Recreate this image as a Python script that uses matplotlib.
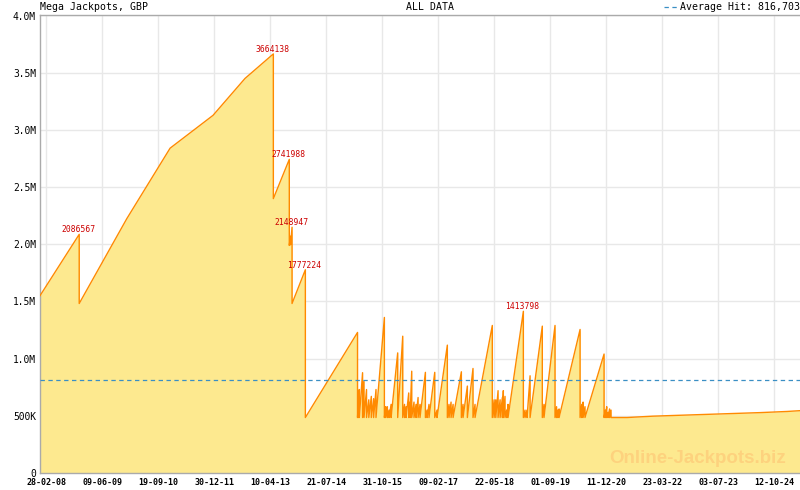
import matplotlib
matplotlib.use("Agg")
import matplotlib.pyplot as plt
import matplotlib.dates as mdates
from matplotlib.lines import Line2D
from matplotlib.ticker import FixedLocator, FuncFormatter
import pandas as pd
import numpy as np

# Jackpot hits: date of the win, amount won
hit_dates = [
    "2008-11-28", "2013-05-05", "2013-09-15", "2013-09-25", "2013-10-08",
    "2014-01-27", "2015-04-07", "2015-04-14", "2015-04-22", "2015-05-19",
    "2015-05-31", "2015-06-21", "2015-07-10", "2015-07-31", "2015-08-19",
    "2015-09-08", "2015-11-17", "2015-11-28", "2015-12-12", "2015-12-26",
    "2016-01-12", "2016-03-07", "2016-04-18", "2016-05-03", "2016-05-16",
    "2016-06-07", "2016-06-18", "2016-07-02", "2016-07-21", "2016-08-07",
    "2016-08-24", "2016-09-09", "2016-10-24", "2016-11-07", "2016-11-23",
    "2017-01-10", "2017-01-29", "2017-04-25", "2017-05-09", "2017-05-26",
    "2017-06-12", "2017-08-20", "2017-09-03", "2017-10-09", "2017-11-25",
    "2017-12-12", "2018-05-05", "2018-05-20", "2018-06-03", "2018-06-22",
    "2018-07-09", "2018-07-28", "2018-08-05", "2018-08-19", "2018-09-02",
    "2018-09-13", "2019-01-19", "2019-02-02", "2019-02-19", "2019-03-16",
    "2019-06-26", "2019-07-10", "2019-10-10", "2019-10-23", "2019-11-02",
    "2019-11-13", "2020-05-06", "2020-05-20", "2020-05-31", "2020-06-16",
    "2020-11-22", "2020-12-03", "2020-12-14", "2020-12-25", "2021-01-07",
    "2021-01-19",
]
hit_values = [
    2086567, 3664138, 2741988, 2070000, 2148947,
    1777224, 1229000, 640000, 730000, 877000,
    800000, 730000, 640000, 670000, 650000,
    730000, 1360000, 580000, 580000, 550000,
    600000, 1050000, 1196000, 600000, 580000,
    700000, 620000, 890000, 620000, 600000,
    660000, 600000, 880000, 550000, 600000,
    880000, 550000, 1118000, 600000, 620000,
    600000, 885000, 600000, 760000, 914000,
    600000, 1290000, 640000, 640000, 720000,
    640000, 660000, 720000, 670000, 550000,
    600000, 1413798, 550000, 550000, 850000,
    1284000, 600000, 1290000, 580000, 550000,
    560000, 1255000, 600000, 620000, 580000,
    1040000, 550000, 580000, 530000, 560000,
    550000,
]
seed = 485000
# value the jackpot restarted from after each hit
reset_values = [1482000, 2399000, 1990000, 1995000, 1482000] + [seed] * (len(hit_dates) - 5)

# readings between hits (start, bends of the long climb, slow growth after 2021)
rise_dates = ["2008-01-06", "2009-12-30", "2010-12-26", "2011-12-19", "2012-09-11",
              "2021-01-28", "2021-06-02", "2022-01-04", "2022-08-18", "2023-03-31",
              "2023-11-03", "2024-06-15", "2025-01-26", "2025-05-14"]
rise_values = [1550000, 2224000, 2840000, 3127000, 3450000,
               485000, 485000, 497000, 505000, 512000,
               520000, 528000, 538000, 545000]

labelled = ["2008-11-28", "2013-05-05", "2013-09-15", "2013-10-08", "2014-01-27", "2019-01-19"]
average_hit = 816703

tick_labels = ["28-02-08", "09-06-09", "19-09-10", "30-12-11", "10-04-13", "21-07-14",
               "31-10-15", "09-02-17", "22-05-18", "01-09-19", "11-12-20", "23-03-22",
               "03-07-23", "12-10-24"]

# build the path: each hit is a peak followed by a drop at the same date
rows = [(pd.Timestamp(d), 0, v) for d, v in zip(rise_dates, rise_values)]
for d, p, r in zip(hit_dates, hit_values, reset_values):
    rows.append((pd.Timestamp(d), 0, p))
    rows.append((pd.Timestamp(d), 1, r))
rows.sort(key=lambda t: (t[0], t[1]))
df = pd.DataFrame(rows, columns=["date", "order", "value"])

mono = "DejaVu Sans Mono"
fill_col = "#fde98f"
line_col = "#ff8a00"
grid_col = "#e8e8e8"
spine_col = "#aaaaaa"
blue = "#3a8fc4"

fig = plt.figure(figsize=(8, 4.9), dpi=100)
ax = fig.add_axes([40 / 800, 1 - 473 / 490, 760 / 800, (473 - 15.5) / 490])
ax.set_axisbelow(True)

ax.fill_between(df["date"], df["value"], color=fill_col, lw=0, zorder=2)
ax.plot(df["date"], df["value"], color=line_col, lw=1.0, zorder=3)
ax.axhline(average_hit, color=blue, lw=0.9, ls=(0, (3.5, 2.8)), zorder=4)

for d in labelled:
    i = hit_dates.index(d)
    ax.annotate(str(hit_values[i]), (pd.Timestamp(d), hit_values[i]),
                xytext=(-0.7, 3.3), textcoords="offset points",
                ha="center", va="center", fontsize=5.8, family=mono,
                color="#cc0000", zorder=5)

ax.set_xlim(pd.Timestamp(rise_dates[0]), pd.Timestamp(rise_dates[-1]))
ax.set_ylim(0, 4000000)

tick_pos = [mdates.date2num(pd.to_datetime(t, format="%d-%m-%y")) for t in tick_labels]
ax.xaxis.set_major_locator(FixedLocator(tick_pos))
ax.set_xticklabels(tick_labels)
step = (tick_pos[1] - tick_pos[0]) / 7
minor = np.arange(tick_pos[0] - 7 * step, tick_pos[-1] + 7 * step, step)
ax.xaxis.set_minor_locator(FixedLocator(minor))

ax.set_yticks(np.arange(0, 4000001, 500000))
ax.yaxis.set_major_formatter(FuncFormatter(
    lambda v, p: "0" if v == 0 else ("500K" if v == 500000 else f"{v / 1e6:.1f}M")))

ax.grid(True, which="major", color=grid_col, lw=1)
ax.tick_params(axis="x", which="major", direction="in", length=3.6, width=1,
               color=spine_col, pad=3.4, labelsize=6)
ax.tick_params(axis="x", which="minor", direction="in", length=2, width=1, color=spine_col)
ax.tick_params(axis="y", direction="in", length=0, pad=3, labelsize=6.9)
for lab in ax.get_xticklabels():
    lab.set_family(mono)
    lab.set_fontweight("bold")
for lab in ax.get_yticklabels():
    lab.set_family(mono)

for s in ["left", "bottom", "top"]:
    ax.spines[s].set_color(spine_col)
    ax.spines[s].set_linewidth(1)
ax.spines["right"].set_visible(False)

ty = 1 - 7 / 490
fig.text(40 / 800, ty, "Mega Jackpots, GBP", ha="left", va="center", fontsize=7.1, family=mono)
fig.text(406 / 800, ty, "ALL DATA", ha="left", va="center", fontsize=7.1, family=mono)
fig.text(799.5 / 800, ty, f"Average Hit: {average_hit:,}", ha="right", va="center",
         fontsize=7.1, family=mono)
fig.add_artist(Line2D([664 / 800, 677 / 800], [ty, ty], color=blue, lw=0.9,
                      ls=(0, (3.5, 2.8))))

fig.text(698 / 800, 1 - 458 / 490, "Online-Jackpots.biz", ha="center", va="center",
         fontsize=13.5, fontweight="bold", family="Liberation Sans", color="#fdd27e")

fig.savefig("out.png", dpi=100)
